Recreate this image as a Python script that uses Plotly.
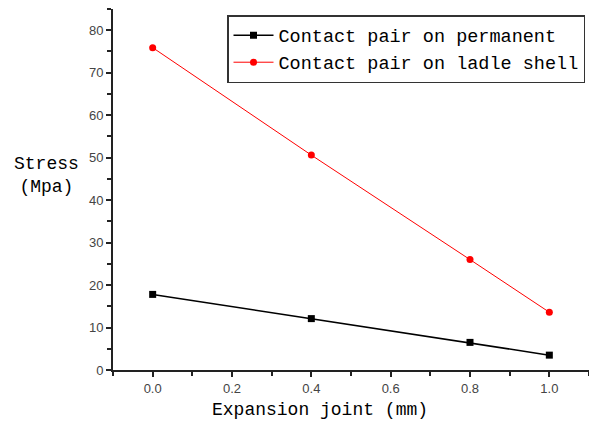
import plotly.graph_objects as go

x_vals = [0.0, 0.4, 0.8, 1.0]
permanent = [17.8, 12.1, 6.5, 3.5]
ladle_shell = [75.9, 50.6, 26.0, 13.6]
series_names = ["Contact pair on permanent", "Contact pair on ladle shell"]
x_title = "Expansion joint (mm)"
y_title = "Stress<br>(Mpa)"

mono = "Liberation Mono"

fig = go.Figure()
fig.add_trace(go.Scatter(x=x_vals, y=permanent, mode="lines+markers", name=series_names[0],
                         line=dict(color="black", width=1.5),
                         marker=dict(symbol="square", size=7, color="black")))
fig.add_trace(go.Scatter(x=x_vals, y=ladle_shell, mode="lines+markers", name=series_names[1],
                         line=dict(color="red", width=1),
                         marker=dict(symbol="circle", size=7, color="red")))

axis_common = dict(showline=True, linecolor="#222", linewidth=2, ticks="outside",
                   ticklen=5, tickwidth=1.5, tickcolor="#222", showgrid=False, zeroline=False,
                   tickfont=dict(family="Liberation Sans", size=13, color="#444"))
fig.update_xaxes(range=[-0.1, 1.1], dtick=0.2, tick0=0, tickformat=".1f",
                 minor=dict(dtick=0.1, ticks="outside", ticklen=4, tickcolor="#222", tickwidth=1.5),
                 **axis_common)
fig.update_yaxes(range=[0, 85], dtick=10, tick0=0,
                 minor=dict(dtick=5, ticks="outside", ticklen=4, tickcolor="#222", tickwidth=1.5),
                 **axis_common)

fig.add_annotation(text=y_title, xref="paper", yref="paper", x=-0.139, y=0.54,
                   showarrow=False, font=dict(family=mono, size=18, color="black"),
                   align="center", xanchor="center", yanchor="middle")
fig.add_annotation(text=x_title, xref="paper", yref="paper", x=0.435, y=-0.111,
                   showarrow=False, font=dict(family=mono, size=18, color="black"),
                   xanchor="center", yanchor="middle")

fig.update_layout(
    width=589, height=423,
    margin=dict(l=113, r=0, t=9, b=53),
    plot_bgcolor="white", paper_bgcolor="white",
    legend=dict(x=0.2395, y=0.983, xanchor="left", yanchor="top",
                bordercolor="#333", borderwidth=1.5, bgcolor="white",
                font=dict(family=mono, size=18.5, color="black"),
                tracegroupgap=0, itemwidth=40),
)

fig.write_html("out.html")
